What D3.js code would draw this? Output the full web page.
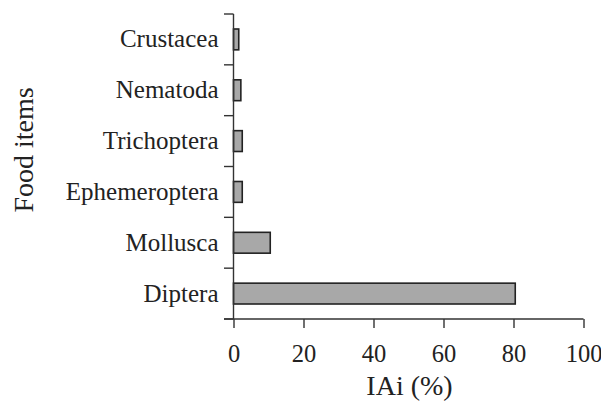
<!DOCTYPE html>
<html><head><meta charset="utf-8">
<script src="https://cdn.jsdelivr.net/npm/d3@7"></script>
</head><body style="margin:0;background:#fff"><div id="chart"></div>
<script>
const categories = ["Diptera","Mollusca","Ephemeroptera","Trichoptera","Nematoda","Crustacea"];
const values = [80.5, 10.5, 2.5, 2.5, 2.1, 1.5];
const xTicks = [0,20,40,60,80,100];
const xTitle = "IAi (%)";
const yTitle = "Food items";

const FONT = "Liberation Serif";
const TXT = "#222";
const svg = d3.select("#chart").append("svg").attr("width", 601).attr("height", 405)
  .style("display","block").attr("font-family", FONT);
const mLeft = 233.5, mRight = 583.5, mTop = 14, mBottom = 319;
const x = d3.scaleLinear().domain([0,100]).range([mLeft,mRight]);
const y = d3.scaleBand().domain(categories).range([mBottom, mTop]).padding(0);
const yb = d3.scaleBand().domain(categories).range([mBottom, mTop]).paddingInner(0.59).paddingOuter(0.295);
const axisColor = "#333";

svg.selectAll("rect.bar").data(categories).enter().append("rect")
  .attr("x", x(0))
  .attr("y", d => yb(d))
  .attr("width", (d,i) => x(values[i]) - x(0))
  .attr("height", yb.bandwidth())
  .attr("fill", "#a8a8a8").attr("stroke", "#222").attr("stroke-width", 1.6);

svg.append("line").attr("x1", mLeft).attr("x2", mLeft).attr("y1", mTop).attr("y2", mBottom)
  .attr("stroke", axisColor).attr("stroke-width", 1.4);
const bounds = categories.map(c => y(c)).concat([mBottom]);
svg.selectAll("line.yt").data(bounds).enter().append("line")
  .attr("x1", mLeft - 9.5).attr("x2", mLeft).attr("y1", d => d).attr("y2", d => d)
  .attr("stroke", axisColor).attr("stroke-width", 1.4);
svg.selectAll("text.yl").data(categories).enter().append("text")
  .attr("x", mLeft - 15).attr("y", d => y(d) + y.bandwidth()/2 + 8)
  .attr("text-anchor","end")
  .style("font-family", FONT).style("font-size","25px").style("fill", TXT).text(d => d);

const xAxis = svg.append("g").attr("transform", `translate(0,${mBottom})`)
  .call(d3.axisBottom(x).tickValues(xTicks).tickSize(9).tickPadding(17).tickFormat(d3.format("d")));
xAxis.attr("font-family", FONT);
xAxis.select(".domain").attr("d", `M${mLeft-9.5},0H${mRight}`).attr("stroke", axisColor).attr("stroke-width", 1.4);
xAxis.selectAll(".tick line").attr("stroke", axisColor).attr("stroke-width", 1.4);
xAxis.selectAll(".tick text").style("font-family", FONT).style("font-size","24.5px").style("fill", TXT);

svg.append("text").attr("x", (mLeft+mRight)/2 + 1).attr("y", 395).attr("text-anchor","middle")
  .style("font-family", FONT).style("font-size","28px").style("fill", TXT).text(xTitle);
svg.append("text").attr("transform", `translate(33,150) rotate(-90)`).attr("text-anchor","middle")
  .style("font-family", FONT).style("font-size","28px").style("fill", TXT).text(yTitle);
</script></body></html>
